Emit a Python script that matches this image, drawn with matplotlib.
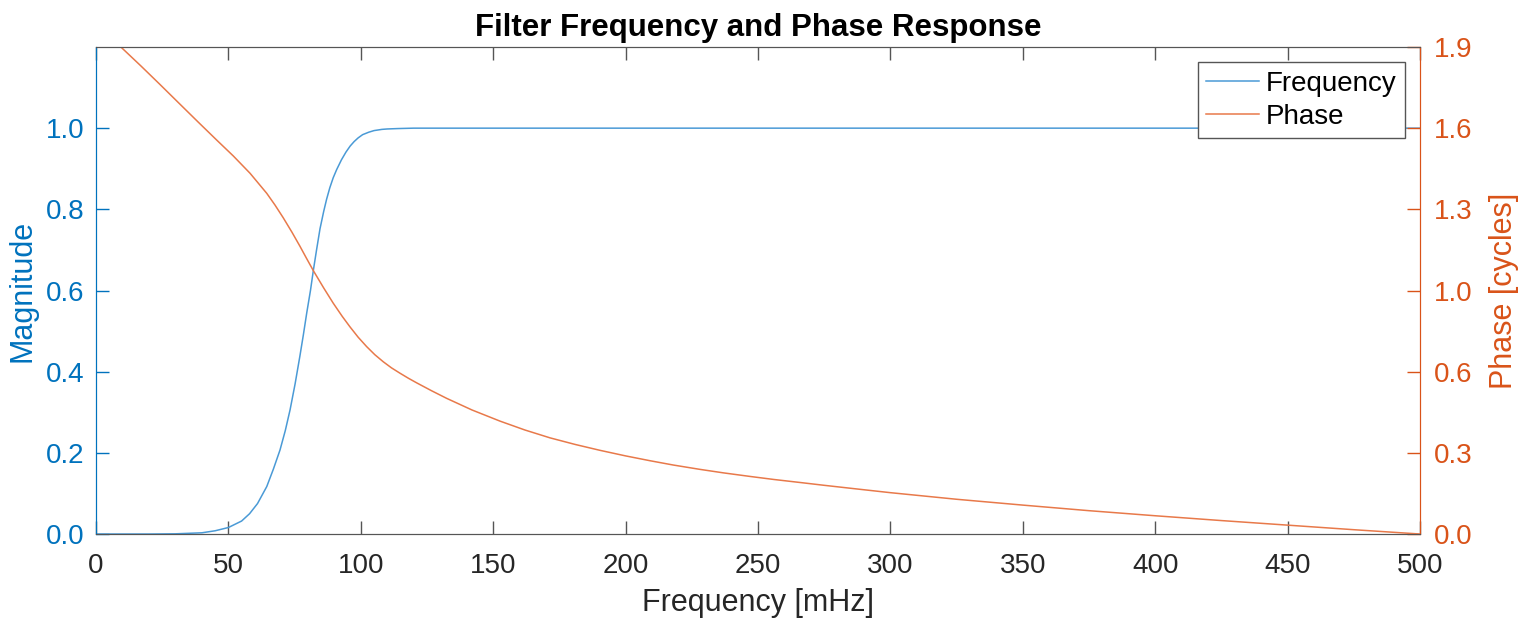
""" Filter frequency and phase response (two y axes) """

import numpy as np
import matplotlib.pyplot as plt

plt.rcParams['font.family'] = ['Liberation Sans', 'DejaVu Sans']

# Magnitude response
freq_mag = [0, 20, 30, 40, 45, 50, 55, 58, 61, 64.5, 67, 69.5, 71.5, 73.3, 75.2, 77,
            78.3, 79.6, 81, 82.1, 83.3, 84.6, 86, 87.1, 88.3, 89.6, 90.9, 92.7, 94.4,
            96, 97.5, 99, 100.7, 103, 105, 108, 110, 114, 120, 130, 200, 300, 400, 500]
magnitude = [0, 0, 0.0005, 0.003, 0.008, 0.016, 0.032, 0.05, 0.075, 0.117, 0.16, 0.207,
             0.255, 0.306, 0.37, 0.438, 0.49, 0.545, 0.6, 0.65, 0.70, 0.752, 0.795,
             0.825, 0.853, 0.878, 0.898, 0.922, 0.941, 0.956, 0.967, 0.976, 0.984,
             0.990, 0.994, 0.997, 0.998, 0.999, 1.0, 1.0, 1.0, 1.0, 1.0, 1.0]

# Phase response (cycles)
freq_phase = [0, 9.4, 17, 24, 31, 38.5, 45.6, 51.9, 58.2, 64.5, 67.6, 70.7, 74, 77,
              79.5, 82.1, 86, 89.6, 93, 95.9, 99, 102.2, 105.3, 108.5, 111.6, 114.8,
              118, 121.1, 126.7, 132.4, 142, 152.6, 162, 171.5, 181, 190.3, 200,
              209.2, 218, 228, 237, 247, 256, 266, 275, 287, 300, 325, 350, 375,
              400, 425, 450, 475, 500]
phase = [2.013, 1.92, 1.845, 1.774, 1.702, 1.625, 1.553, 1.49, 1.422, 1.343, 1.297,
         1.247, 1.19, 1.135, 1.087, 1.038, 0.97, 0.91, 0.858, 0.817, 0.776, 0.739,
         0.707, 0.679, 0.655, 0.634, 0.614, 0.596, 0.565, 0.535, 0.489, 0.445, 0.41,
         0.379, 0.353, 0.330, 0.308, 0.289, 0.272, 0.255, 0.241, 0.227, 0.215,
         0.203, 0.192, 0.178, 0.163, 0.137, 0.114, 0.092, 0.072, 0.053, 0.035,
         0.017, 0.0]

mag_ticks = [0, 0.2, 0.4, 0.6, 0.8, 1.0]
phase_ticks = [0, 0.32, 0.64, 0.96, 1.28, 1.6, 1.92]
freq_ticks = [0, 50, 100, 150, 200, 250, 300, 350, 400, 450, 500]

azul = '#0072BD'
laranja = '#D95319'
cinza = '#262626'

fig = plt.figure(figsize=(15.33, 6.24), dpi=100)
ax = fig.add_axes([0.0626, 0.1442, 0.8637, 0.7805])
ax2 = ax.twinx()

l1, = ax.plot(freq_mag, magnitude, color='#4a9ad6', lw=1.1, label='Frequency')
l2, = ax2.plot(freq_phase, phase, color='#e8794a', lw=1.1, label='Phase')

ax.set_xlim(0, 500)
ax.set_ylim(0, 1.2)
ax2.set_ylim(0, 1.92)
ax.set_xticks(freq_ticks)
ax.set_yticks(mag_ticks)
ax.set_yticklabels(['%.1f' % v for v in mag_ticks])
ax2.set_yticks(phase_ticks)
ax2.set_yticklabels(['%.1f' % v for v in phase_ticks])

ax.tick_params(axis='x', direction='in', length=9.5, width=1, colors='#555555',
               labelcolor=cinza, labelsize=20, top=True, pad=14)
ax.tick_params(axis='y', direction='in', length=9.5, width=1, colors=azul,
               labelsize=20, pad=8)
ax2.tick_params(axis='y', direction='in', length=9.5, width=1, colors=laranja,
                labelsize=20, pad=10)

for a in (ax, ax2):
    a.spines['top'].set_color('#555555')
    a.spines['bottom'].set_color('#555555')
    a.spines['left'].set_color(azul)
    a.spines['right'].set_color(laranja)

ax.set_xlabel('Frequency [mHz]', fontsize=22, color=cinza, labelpad=6)
ax.set_ylabel('Magnitude', fontsize=22, color=azul, labelpad=6)
ax2.set_ylabel('Phase [cycles]', fontsize=22, color=laranja, labelpad=12)
ax.set_title('Filter Frequency and Phase Response', fontsize=22.5, fontweight='bold', pad=8)

leg = ax2.legend([l1, l2], ['Frequency', 'Phase'], loc='upper right', fontsize=20,
                 fancybox=False, framealpha=1, edgecolor='#555555', handlelength=1.9,
                 borderaxespad=0.55, borderpad=0.3, labelspacing=0.25, handletextpad=0.25)
leg.get_frame().set_linewidth(1)

plt.savefig('out.png', dpi=100)
